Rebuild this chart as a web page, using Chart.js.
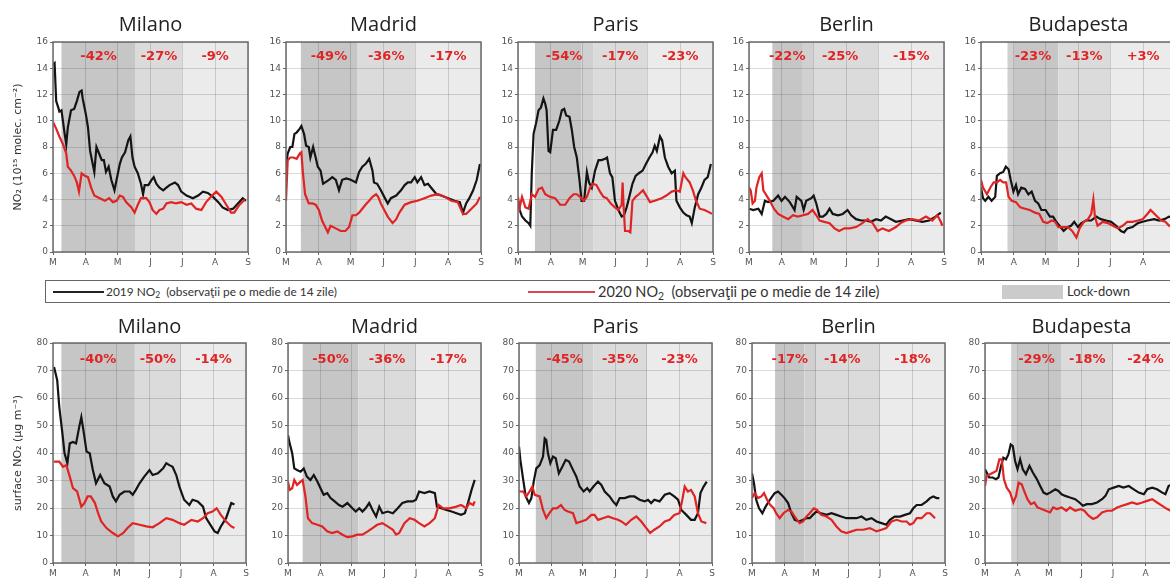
<!DOCTYPE html>
<html>
<head>
<meta charset="utf-8">
<script src="https://cdn.jsdelivr.net/npm/chart.js@4.4.0/dist/chart.umd.min.js"></script>
<style>
  html, body { margin: 0; padding: 0; background: #fff; }
  body { width: 1170px; height: 581px; position: relative; overflow: hidden; }
  canvas { position: absolute; }
  #legend { position: absolute; left: 45px; top: 280px; width: 1150px; height: 23px;
            border: 1px solid #666; box-sizing: border-box; font-family: Lato, "Open Sans", sans-serif; color: #333; }
  .lg-line { position: absolute; height: 2px; top: 10px; }
  .lg-text { position: absolute; top: 0; line-height: 21px; white-space: pre; }
  .lg-text sub { font-size: 0.72em; vertical-align: -0.25em; line-height: 0; }
  #swatch { position: absolute; top: 4px; height: 14px; background: #cbcbcb; }
</style>
</head>
<body>
<div id="legend">
  <div class="lg-line" style="left:7px;width:51px;background:#222;"></div>
  <div class="lg-text" style="left:60px;font-size:11.9px;">2019 NO<sub>2</sub>  (observaţii pe o medie de 14 zile)</div>
  <div class="lg-line" style="left:482px;width:67px;background:#dc4450;"></div>
  <div class="lg-text" style="left:552px;font-size:14.5px;">2020 NO<sub>2</sub>  (observaţii pe o medie de 14 zile)</div>
  <div id="swatch" style="left:956px;width:61px;"></div>
  <div class="lg-text" style="left:1021px;font-size:13px;">Lock-down</div>
</div>
<script>
// ---- time axis: days since 1 March, ticks at the first of each month ----
const MONTH_DAYS = [0, 31, 61, 92, 122, 153, 184];
const MONTH_LABELS = ['M', 'A', 'M', 'J', 'J', 'A', 'S'];
const CITIES = ['Milano', 'Madrid', 'Paris', 'Berlin', 'Budapesta'];

// ---- lock-down phases (start of phase 1, 2, 3 and end), in days ----
const milanoPhases = [8, 78, 122, 184];
const madridPhases = [14, 67, 122, 184];
const parisPhases = [16, 71, 122, 184];
const berlinPhases = [22, 50, 122, 184];
const budapestPhases = [25, 73, 122, 184];

// ---- shaded bands: [from day, to day, shade] ----
const milanoBands = [[8, 78, 'dark'], [78, 122, 'mid'], [122, 184, 'light']];
const madridBands = [[14, 67, 'dark'], [67, 122, 'mid'], [122, 184, 'light']];
const parisBands = [[16, 60, 'dark'], [60, 71, 'dark2'], [71, 122, 'mid'], [122, 184, 'light']];
const berlinBands = [[22, 50, 'dark'], [50, 61, 'dark2'], [61, 122, 'mid'], [122, 184, 'light']];
const budapestBands = [[25, 31, 'dark2'], [31, 73, 'dark'], [73, 122, 'mid'], [122, 184, 'light']];

// ---- change 2020 vs 2019 per phase ----
const milanoSatPct = ['-42%', '-27%', '-9%'];
const madridSatPct = ['-49%', '-36%', '-17%'];
const parisSatPct = ['-54%', '-17%', '-23%'];
const berlinSatPct = ['-22%', '-25%', '-15%'];
const budapestSatPct = ['-23%', '-13%', '+3%'];
const milanoSurfPct = ['-40%', '-50%', '-14%'];
const madridSurfPct = ['-50%', '-36%', '-17%'];
const parisSurfPct = ['-45%', '-35%', '-23%'];
const berlinSurfPct = ['-17%', '-14%', '-18%'];
const budapestSurfPct = ['-29%', '-18%', '-24%'];

// ---- satellite NO2 columns, 14-day means: [day, 1e15 molec/cm2] ----
const milanoSat2019 = [[0,14.3],[1.5,14.4],[3,11.5],[5,11],[6,10.7],[8,10.8],[9,10.2],[11,9],[12.5,8.2],[14,9.5],[17,10.8],[20,10.9],[22.5,11.5],[25,12.2],[27,12.3],[28,11.7],[31,10.5],[33,9.5],[35,7.7],[38,6.5],[39,6.1],[41,8],[43,7.6],[46,7],[48,7],[50,6.1],[52.5,6.5],[55,5.5],[58,4.7],[60,5.5],[63,6.7],[65,7.2],[68,7.6],[71,8.5],[73,8.8],[75,7.2],[77,6.5],[80,6],[83,5.2],[85,4.4],[86.5,5.1],[90,5.1],[93,5.5],[95,5.7],[97.5,5.2],[100.5,4.9],[104,4.7],[107,4.9],[110,5.1],[115,5.3],[118,5.1],[121,4.6],[126,4.3],[132,4.1],[137,4.3],[141.5,4.6],[146,4.5],[151,4.2],[156,3.8],[160,3.4],[165,3.2],[170,3.3],[174.5,3.7],[179,4.1],[182,3.9]];
const milanoSat2020 = [[0,9.9],[3,9.4],[6,8.8],[9.5,8.2],[12.5,7.5],[14,6.5],[17,6.2],[20,5.8],[22.5,5.3],[24.5,4.6],[27,6],[30,5.8],[33,5.7],[36,4.9],[39,4.3],[44,4.1],[49,3.9],[53,4.1],[56.5,3.8],[60,3.9],[63,4.3],[66,4.2],[69,3.8],[74,3.4],[77,3.0],[80,3.6],[83,4.1],[88,4.1],[91,3.8],[94,3.2],[97.5,2.9],[100.5,3.2],[104,3.3],[107,3.7],[111.5,3.8],[116,3.7],[121,3.8],[126,3.6],[130.5,3.7],[135,3.3],[140,3.2],[144.5,3.8],[149,4.2],[154,4.6],[159,4.2],[163.5,3.6],[168,3.0],[171,3.0],[176,3.6],[181,4.0]];
const madridSat2019 = [[0,6.5],[1.6,7.5],[4,8],[6,8],[8,9],[10,9.1],[13,9.4],[14.5,9.6],[17,9],[19,8.1],[21.5,8],[23,7.2],[25.6,8],[28,7.2],[30,6.5],[32.6,6.2],[35,5.2],[37,5.3],[40.5,5.5],[43.7,5.7],[47,5.5],[50,4.7],[53,5.5],[57,5.6],[61,5.5],[66,5.3],[69,6.1],[72,6.5],[75,6.7],[78.5,7.1],[81.6,6.2],[83,5.3],[86,5.2],[89.5,4.7],[92.7,4.2],[96,3.7],[99,4.1],[104,4.3],[108.5,4.7],[112,5.1],[115,5.3],[118,5.3],[121.5,5.7],[124,5.3],[127.5,5.7],[130.7,5.1],[134,5.2],[137,4.9],[142,4.4],[146.5,4.3],[153,4.1],[159,3.9],[164,3.8],[167,3.0],[170,3.7],[173,4.1],[176.6,4.7],[180,5.5],[183,6.7]];
const madridSat2020 = [[0,3.9],[1.6,7],[4,7.2],[7,7.2],[10,7.1],[13,7.5],[14.5,7.6],[16,6],[18,4.4],[21.5,3.7],[25,3.7],[28,3.6],[31,3.2],[34,2.4],[37,1.9],[39.5,1.5],[42,2],[47,1.8],[51.6,1.6],[56,1.6],[59.5,1.9],[62.7,2.8],[66,2.8],[69,3.0],[72,3.3],[75,3.6],[78.5,3.9],[81.6,4.2],[85,4.4],[87,4.2],[89.5,3.7],[92.7,3.2],[96,2.7],[100.6,2.2],[104,2.5],[107,3.0],[112,3.6],[118,3.8],[124,3.9],[130.7,4.1],[137,4.3],[143.7,4.4],[150,4.2],[156,3.9],[162,3.8],[167,2.9],[170,2.9],[175,3.3],[180,3.7],[183,4.2]];
const parisSat2019 = [[0,3.9],[1.6,3.2],[3.8,2.7],[7,2.4],[10,2.2],[11.6,2.0],[13,6],[14.7,9],[17,9.8],[19.4,10.8],[21.6,11],[24,11.7],[25.7,11.3],[27,10.8],[28.8,7.7],[30.4,7.6],[33,9.3],[36,9.3],[39,10],[41.4,10.8],[43.6,10.9],[45.5,10.4],[48.6,10.3],[50.8,9.3],[53,8],[55.5,7.2],[58,5.5],[60,3.9],[62.4,3.9],[65,6.1],[67,5.3],[69.6,4.9],[72.7,6.2],[76,7],[79,7],[82,7.1],[84,7.2],[86.8,6],[89,5.7],[91.5,3.9],[94.7,3.2],[97.8,2.7],[100,2.8],[102.5,3.4],[105,4.2],[108,5.2],[111,5.8],[114,6],[117.6,6.2],[120.7,6.7],[124,7.2],[127,7.6],[129,8.1],[131,7.7],[134,8.8],[136,8.5],[138.6,7.2],[141.7,6.5],[145,6],[148,6.2],[149.5,3.9],[152.7,3.4],[156,3.0],[159,2.8],[162,2.7],[164,2.2],[166.8,3.4],[170,4.4],[173,4.9],[176,5.5],[179,5.7],[182,6.7]];
const parisSat2020 = [[0,4.2],[1.6,3.4],[3.8,4.2],[7,3.4],[10,3.3],[13,4.4],[16,4.2],[19.4,4.8],[22.6,4.9],[25.7,4.4],[30.4,4.2],[35,4.1],[39.8,3.6],[44.5,3.6],[48.6,4.1],[52.4,4.4],[55.5,4.4],[58.6,4.2],[61.8,3.9],[65,4.2],[68,4.9],[71,5.2],[74,5.1],[77.4,4.6],[80.6,4.2],[83.7,4.1],[87.5,3.7],[91.5,3.4],[94.7,3.2],[97.8,3.6],[98.7,5.3],[99.7,3.4],[101,1.6],[104,1.6],[106,1.5],[108,3.9],[111,4.2],[114,4.4],[118,4.7],[121,4.3],[124.5,3.8],[129,3.9],[135.5,4.1],[140,4.3],[145,4.6],[149.5,4.7],[152.7,4.6],[156,6],[158,5.7],[162,5.3],[165,4.7],[168,3.9],[171.5,3.3],[176,3.2],[181,3.0],[183,2.9]];
const berlinSat2019 = [[0,3.3],[4,3.2],[8.8,3.3],[12,2.9],[15,3.9],[18,3.8],[23,3.9],[27.5,4.3],[30.7,3.9],[34,4.2],[38.5,3.8],[43,3.2],[45,4.2],[49.4,3.9],[51.6,3.2],[54,3.9],[58.8,4.1],[61,4.3],[63.5,3.7],[66.6,2.7],[69.8,2.7],[73,2.9],[76,3.3],[79,2.9],[84,2.8],[88.5,2.9],[93,3.2],[96.4,2.8],[101,2.5],[105.8,2.4],[110.5,2.4],[115,2.3],[120,2.5],[124.5,2.4],[129,2.7],[134,2.5],[138.6,2.3],[145,2.4],[151,2.5],[157,2.4],[163.6,2.3],[170,2.4],[176,2.7],[181,3.0]];
const berlinSat2020 = [[0,4.9],[1.6,4.7],[3.4,3.7],[5.6,3.9],[7,4.9],[9.7,5.7],[12,6],[13.5,4.7],[16.6,4.3],[19.7,3.9],[23.5,3.3],[27.5,2.9],[32,2.7],[37,2.5],[41.6,2.8],[46,2.7],[51,2.8],[55.7,2.9],[60,3.2],[63.5,2.8],[66.6,2.4],[71,2.3],[76,2.2],[80.7,1.8],[85,1.6],[90,1.8],[95,1.8],[101,1.9],[107,2.2],[112,2.5],[116.7,2.2],[121.4,1.6],[126,1.8],[132,1.6],[138.6,1.9],[143,2.2],[148,2.4],[154,2.5],[160.6,2.4],[167,2.7],[173,2.4],[177.7,2.8],[181,2.3],[182.4,2.0]];
const budapestSat2019 = [[0,4.9],[1.9,4.1],[4,3.9],[7,4.2],[10,3.9],[13.4,4.2],[15,5.8],[18,6],[21,6.1],[23.4,6.5],[26,6.3],[28,5.5],[30.6,4.6],[33,5.1],[35,4.4],[38,4.9],[41.6,4.8],[44.7,4.4],[47.8,4.6],[51,3.9],[54,3.7],[57,3.2],[61,3.2],[65,2.7],[68,2.7],[71,2.3],[74,2.0],[78,1.6],[82,1.9],[85,2.0],[88,2.3],[91.5,1.9],[94.7,2.2],[99,2.4],[104,2.4],[108.7,2.7],[113,2.5],[118,2.4],[122.8,2.3],[127.5,2.0],[132,1.6],[135,1.5],[138,1.8],[143,1.9],[148,2.2],[152.5,2.3],[157,2.4],[163.4,2.5],[168,2.4],[173,2.5],[177.5,2.7],[184,2.6]];
const budapestSat2020 = [[0,5.5],[1.9,4.9],[5.6,4.4],[8.7,4.9],[12,5.3],[15,5.3],[18,5.5],[21,5.3],[23.7,5.3],[26,4.2],[29,3.9],[33,3.8],[37,3.4],[41.6,3.3],[46,3.2],[51,3.0],[55,2.9],[58.7,2.3],[62.5,2.2],[66.6,2.4],[70,2.3],[73,1.9],[77.5,1.9],[82,1.9],[86,1.6],[90,1.1],[93,1.8],[97,2.3],[101,2.5],[104,2.9],[106,4.0],[107.5,2.7],[110,2.0],[115,2.3],[119.7,2.2],[124.4,2.0],[129,1.8],[133.7,2.0],[138,2.3],[143,2.3],[148,2.4],[152.5,2.5],[157,2.9],[160,3.2],[165,2.8],[170,2.4],[174,2.3],[177.5,2.0],[184,2.1]];

// ---- surface NO2 concentrations: [day, µg/m3] ----
const milanoSurf2019 = [[1,71.3],[4,66.5],[6,56.8],[9,47],[11,39.9],[13.7,36.3],[16,43.5],[19,44],[22,43.5],[25,49.5],[27,53],[29,48.3],[32,40.5],[35,39.9],[38,33.8],[41,29],[45,32],[49,29],[54,27.8],[57,24.2],[60,22.4],[63.5,24.8],[68,26],[73,26],[76,24.8],[79,26.6],[82.5,29],[87,31.4],[92,33.8],[95,32],[100,32.6],[105,34.4],[108,36.3],[111,35.6],[114,35],[117.5,32],[120.5,27.8],[125,23],[130,21.1],[133,23],[138,22.4],[143,20.5],[146,16.3],[149,14.5],[154,11.5],[157,10.9],[160,13.3],[165,16.3],[170,21.8],[173,21.3]];
const milanoSurf2020 = [[1,36.9],[6,36.9],[9.5,35],[12.7,35.6],[16,31.4],[19,27.2],[23,26],[27,20.5],[30,21.8],[33,24.2],[36,24.2],[40,21.8],[43,18.1],[46,15.1],[51,12.7],[57,10.9],[62,9.7],[67,10.9],[71,12.7],[76,14.5],[82.5,13.9],[89,13.3],[95,13],[101.5,14.5],[108,16.3],[114,15.7],[120.5,14.5],[125,13.9],[132,15.7],[138,15.1],[143,16.3],[147.5,18.1],[152,18.7],[156,19.9],[160,17.5],[165,15.1],[170,13.3],[173,12.7]];
const madridSurf2019 = [[0,46.5],[1.6,43.5],[4,39.9],[6,34.4],[8.6,33.8],[12,33.2],[15,34.4],[18,31.4],[21.4,30.2],[24.6,32],[28,29.6],[31,27.2],[34,24.8],[37.4,25.4],[40.6,23.6],[44.5,22.4],[48.6,21.1],[52,20.5],[56.6,21.8],[61.4,19.9],[64.6,18.7],[68,19.9],[71,18.7],[74,19.9],[77.4,21.8],[80.6,19.3],[84,16.9],[87,20.5],[90,18.1],[95,18.7],[100,18.1],[104.6,19.9],[109,21.8],[114,22.4],[119,22.4],[122,23],[125,26],[130,25.4],[135,26],[140,25.4],[142,20.5],[146,19.9],[151,19.3],[156,18.7],[160.6,18.1],[165,17.5],[168.6,18.1],[172,22.4],[175,26.6],[178,30.2]];
const madridSurf2020 = [[0,29.6],[1.6,26.6],[4,27.2],[6,30.2],[8.6,28.4],[12,29.6],[14,30.2],[16.6,24.2],[19,16.3],[23,14.5],[28,13.9],[32.6,13.3],[37.4,11.5],[42,10.9],[47,11.5],[52,10.3],[56.6,9.4],[61.4,9.7],[66,10.3],[71,10.3],[76,11.5],[80.6,12.7],[85,13.9],[90,14.5],[95,13.3],[100,12.1],[103,10.3],[106,10.9],[111,14.5],[116,16.3],[120.6,15.7],[125,14.5],[130,13.3],[135,14.5],[140,16.3],[143.7,21.1],[148,19.9],[154,19.9],[160.6,20.5],[165,21.1],[170,19.9],[173,21.8],[176.6,21.1],[178,22.4]];
const parisSurf2019 = [[0,42.3],[1.3,37.5],[3.8,30.8],[6.4,24.2],[9.5,21.8],[11.8,23.6],[14,29.6],[16.5,34.4],[19.7,35.6],[22.9,38.7],[24.5,45.3],[26,44.7],[27.6,39.9],[29.9,36.3],[32.4,38.7],[35,38.1],[38,32.6],[41.3,35],[44.5,37.5],[47.7,36.9],[50.8,34.4],[54.7,31.4],[57.8,27.8],[61.6,26],[65,27.2],[67.4,26],[71,27.8],[75.3,29.6],[78.5,28.4],[81.7,26],[86.4,24.2],[89.6,22.4],[92.8,21.1],[96,23.6],[100.7,23.6],[105.5,24.2],[110,24.2],[115,23],[119.8,22.4],[123,23],[126,21.8],[129,23],[134,22.4],[139,24.8],[143.6,25.4],[148,24.2],[151.6,23],[154.8,19.3],[159.5,17.5],[164,15.7],[167.5,15.7],[170.6,18.1],[173,25.4],[176,27.8],[179,29.6]];
const parisSurf2020 = [[0,26],[3.8,26],[7,24.2],[10,26],[12.7,27.8],[15,24.8],[19.7,24.2],[22.9,19.3],[26,16.3],[29,18.1],[32.4,19.9],[36,19.9],[40,21.1],[43.5,19.3],[46.7,18.7],[51.5,18.1],[54.7,14.5],[59.4,15.1],[64,15.7],[69,17.5],[72,17.5],[75.3,15.7],[80,16.3],[85,16.9],[89.6,16.3],[94.4,15.7],[97.6,15.1],[102,13.9],[107,15.7],[111.8,16.9],[116.6,15.1],[121.4,12.7],[125,10.9],[129,12.1],[134,13.3],[139,15.1],[143.6,15.7],[148,17.5],[153,18.1],[155.7,23],[158,27.8],[161,26],[164,26.6],[167.5,24.2],[170.6,18.1],[173.8,15.1],[178.6,14.5]];
const berlinSurf2019 = [[0,32.6],[1.9,29],[4,23],[6.7,19.9],[9.9,18.1],[13,20.5],[17,23],[21.6,25.4],[24.8,26],[28,24.8],[31,23.6],[34.4,21.8],[37.6,18.1],[40.8,15.7],[45,15.1],[48.7,15.7],[52,16.3],[55,16.3],[58,17.5],[61.4,18.7],[66,18.1],[71,17.5],[75.8,18.1],[80.5,17.5],[85,16.9],[90,16.3],[95,16.3],[99.6,16.3],[104.4,16.9],[109,15.7],[114,16.3],[118.7,15.1],[123.5,14.5],[128,13.9],[131.5,15.7],[136,16.9],[141,16.9],[145.8,17.5],[150.6,18.1],[153.8,19.9],[157,21.1],[161.7,21.1],[166.5,22.4],[169.7,23.6],[172.9,24.2],[176,23.6],[178.6,23.6]];
const berlinSurf2020 = [[0,23.6],[2.5,25.4],[5.7,23.6],[8.9,24.2],[11.5,25.4],[14.3,23],[17.5,21.1],[20.7,19.9],[23,18.1],[26.4,16.3],[30,18.1],[34.4,19.3],[37.6,18.7],[41.7,16.3],[45.5,14.5],[48.7,15.1],[52,16.9],[55,18.1],[59,19.9],[62,19.3],[66,17.5],[71,16.9],[75.8,15.7],[80.5,13.3],[85,11.5],[90,10.9],[95,11.5],[99.6,12.1],[106,12.1],[112.4,12.7],[118.7,11.5],[123.5,12.1],[128,12.7],[133,15.1],[138,15.7],[142.6,15.1],[147.4,15.1],[150.6,13.9],[153.8,14.5],[157,16.3],[161.7,16.3],[166.5,18.1],[169.7,18.1],[172.9,16.9],[174.5,16.3]];
const budapestSurf2019 = [[0,34.1],[1.6,32.9],[4,31.1],[7.3,31.1],[10.5,30.5],[12.8,31.1],[15.3,35.3],[17.5,38.3],[20,37.7],[22.3,39.5],[24.5,43.1],[26.5,42.5],[28.7,37.1],[31,34.1],[33.5,37.7],[36,34.1],[39,32.3],[42.4,35.3],[45.6,32.9],[49.4,30.5],[52.6,28],[55.8,25.6],[59,25],[62,25.6],[67,26.8],[70,26.2],[73,25],[76.5,24.4],[81,23.8],[86,23.2],[90,22],[93.4,20.8],[97,21.4],[102,21.4],[106.8,22],[111.6,23.2],[114.8,24.4],[118,26.8],[122.7,27.4],[127.5,28],[132,27.4],[137,28],[141.8,26.8],[146.6,25.6],[151.4,25],[154.6,26.8],[159.4,27.4],[164,26.8],[169,25.6],[172,25],[175,28],[178,28.5]];
const budapestSurf2020 = [[0,28],[1.6,31.7],[4.8,32.3],[8,32.9],[11,33.5],[13.7,37.7],[16,37.7],[18,30.5],[20.7,27.4],[24,25.6],[27,22],[29.6,24.4],[32,29.2],[35,28.6],[37.3,26.2],[40.5,23.2],[43.7,21.4],[47,22],[50,20.2],[54,19.6],[58,19],[62,18.4],[65,20.2],[68.5,19.6],[73,20.2],[77.5,19],[81,20.2],[86,19],[91,19.6],[94.7,19],[98.8,17.2],[103,16],[106.8,16.6],[111.6,18.4],[116.4,19],[121,19],[126,20.2],[130.7,20.8],[135.5,21.4],[140.3,22],[145,21.4],[150,22],[154.6,22.6],[159.4,23.2],[164,22],[169,20.8],[173.7,19.6],[177,19]];

// ---- panel definitions built from the arrays above ----
const satellitePanels = [
  { s19: milanoSat2019, s20: milanoSat2020, pct: milanoSatPct, phases: milanoPhases, bands: milanoBands },
  { s19: madridSat2019, s20: madridSat2020, pct: madridSatPct, phases: madridPhases, bands: madridBands },
  { s19: parisSat2019, s20: parisSat2020, pct: parisSatPct, phases: parisPhases, bands: parisBands },
  { s19: berlinSat2019, s20: berlinSat2020, pct: berlinSatPct, phases: berlinPhases, bands: berlinBands },
  { s19: budapestSat2019, s20: budapestSat2020, pct: budapestSatPct, phases: budapestPhases, bands: budapestBands }
];
const surfacePanels = [
  { s19: milanoSurf2019, s20: milanoSurf2020, pct: milanoSurfPct, phases: milanoPhases, bands: milanoBands },
  { s19: madridSurf2019, s20: madridSurf2020, pct: madridSurfPct, phases: madridPhases, bands: madridBands },
  { s19: parisSurf2019, s20: parisSurf2020, pct: parisSurfPct, phases: parisPhases, bands: parisBands },
  { s19: berlinSurf2019, s20: berlinSurf2020, pct: berlinSurfPct, phases: berlinPhases, bands: berlinBands },
  { s19: budapestSurf2019, s20: budapestSurf2020, pct: budapestSurfPct, phases: budapestPhases, bands: budapestBands }
];

// ---- page layout of the two rows of small multiples ----
const ROWS = [
  { top: 0, titlePad: [13, 5], plotH: 210, plotW: 195, lefts: [53, 286, 518, 749, 981],
    yMax: 16, yStep: 2, labelAt: 14.9, yTitle: 'NO₂ (10¹⁵ molec. cm⁻²)', panels: satellitePanels },
  { top: 300, titlePad: [15, 4], plotH: 220, plotW: 193, lefts: [53, 288, 519, 752, 985],
    yMax: 80, yStep: 10, labelAt: 74, yTitle: 'surface NO₂ (μg m⁻³)', panels: surfacePanels }
];

const SHADES = { dark: '#c6c6c6', dark2: '#d0d0d0', mid: '#dbdbdb', light: '#ebebeb' };
const RED = '#e02424';
const BLACK = '#141414';
const GRID = 'rgba(0,0,0,0.14)';

// lock-down shading behind the grid, frame and per-phase change labels on top
const lockdownPlugin = {
  id: 'lockdown',
  beforeDraw(chart, args, opts) {
    const { ctx, chartArea: a, scales: { x } } = chart;
    ctx.save();
    opts.bands.forEach(([from, to, shade]) => {
      const x0 = x.getPixelForValue(from);
      const x1 = x.getPixelForValue(to);
      ctx.fillStyle = SHADES[shade];
      ctx.fillRect(x0, a.top, x1 - x0, a.bottom - a.top);
    });
    ctx.restore();
  },
  afterDraw(chart, args, opts) {
    const { ctx, chartArea: a, scales: { x, y } } = chart;
    ctx.save();
    ctx.strokeStyle = '#6a6a6a';
    ctx.lineWidth = 1.5;
    ctx.strokeRect(a.left, a.top, a.right - a.left, a.bottom - a.top);
    ctx.font = 'bold 13px "DejaVu Sans"';
    ctx.fillStyle = RED;
    ctx.textAlign = 'center';
    ctx.textBaseline = 'middle';
    opts.pct.forEach((txt, i) => {
      const mid = (opts.phases[i] + opts.phases[i + 1]) / 2;
      ctx.fillText(txt, x.getPixelForValue(mid), y.getPixelForValue(opts.labelAt));
    });
    ctx.restore();
  }
};
Chart.register(lockdownPlugin);

const toPoints = s => s.map(([x, y]) => ({ x, y }));

ROWS.forEach(row => row.panels.forEach((p, col) => {
  const yW = col === 0 ? 53 : 34;
  const rightPad = 8;
  const xH = 18;
  const titleH = row.titlePad[0] + 24 + row.titlePad[1];
  const canvas = document.createElement('canvas');
  canvas.width = yW + row.plotW + rightPad;
  canvas.height = titleH + row.plotH + xH;
  canvas.style.left = (row.lefts[col] - yW) + 'px';
  canvas.style.top = row.top + 'px';
  canvas.style.width = canvas.width + 'px';
  canvas.style.height = canvas.height + 'px';
  document.body.appendChild(canvas);

  new Chart(canvas, {
    type: 'line',
    data: {
      datasets: [
        { label: '2020 NO₂', data: toPoints(p.s20), borderColor: RED, borderWidth: 2.2,
          pointRadius: 0, tension: 0, fill: false },
        { label: '2019 NO₂', data: toPoints(p.s19), borderColor: BLACK, borderWidth: 2.2,
          pointRadius: 0, tension: 0, fill: false }
      ]
    },
    options: {
      responsive: false,
      animation: false,
      events: [],
      layout: { padding: { left: 0, right: rightPad, top: 0, bottom: 0 } },
      plugins: {
        legend: { display: false },
        tooltip: { enabled: false },
        title: {
          display: true, text: CITIES[col], fullSize: false, color: '#222',
          font: { family: '"Open Sans"', size: 20, weight: 'normal' },
          padding: { top: row.titlePad[0], bottom: row.titlePad[1] }
        },
        lockdown: { bands: p.bands, phases: p.phases, pct: p.pct, labelAt: row.labelAt }
      },
      scales: {
        x: {
          type: 'linear', min: 0, max: 184,
          afterBuildTicks: ax => { ax.ticks = MONTH_DAYS.map(v => ({ value: v })); },
          afterFit: ax => { ax.height = xH; },
          ticks: { autoSkip: false, maxRotation: 0, padding: 2, color: '#555',
                   font: { family: '"DejaVu Sans"', size: 9 },
                   callback: (v, i) => MONTH_LABELS[i] },
          grid: { color: GRID, tickLength: 3, tickColor: '#666' },
          border: { display: false }
        },
        y: {
          min: 0, max: row.yMax,
          afterFit: ax => { ax.width = yW; },
          ticks: { stepSize: row.yStep, padding: 2, color: '#555',
                   font: { family: '"DejaVu Sans"', size: 9 } },
          grid: { color: GRID, tickLength: 3, tickColor: '#666' },
          border: { display: false },
          title: { display: col === 0, text: row.yTitle, color: '#333',
                   font: { family: '"DejaVu Sans"', size: 11 },
                   padding: { top: 12, bottom: 0 } }
        }
      }
    }
  });
}));
</script>
</body>
</html>
